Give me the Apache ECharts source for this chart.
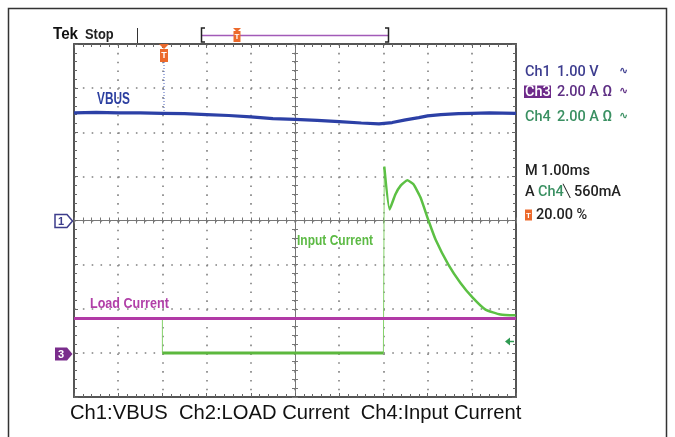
<!DOCTYPE html>
<html>
<head>
<meta charset="utf-8">
<script src="https://cdn.jsdelivr.net/npm/echarts@6/dist/echarts.min.js"></script>
<style>
html,body{margin:0;padding:0;background:#fff;}
#c{width:675px;height:437px;}
</style>
</head>
<body>
<div id="c"></div>
<script>
// Time axis in ms (trigger at 0, 20% position), vertical values in screen divisions
const vbusTime = [-2,-1.5,-1,-0.5,0,0.5,1,1.5,2,2.5,3,3.5,4,4.5,4.9,5.2,5.5,5.8,6.0,6.3,6.7,7.0,7.4,8];
const vbusDiv  = [2.44,2.45,2.44,2.44,2.43,2.42,2.40,2.38,2.35,2.31,2.29,2.27,2.24,2.21,2.19,2.22,2.28,2.33,2.37,2.40,2.42,2.43,2.44,2.43];

const loadTime = [-2,0,2,4,6,8];
const loadDiv  = [-2.22,-2.22,-2.22,-2.22,-2.22,-2.22];

const inputPreTime = [-2,0];
const inputPreDiv  = [-2.22,-2.22];
const inputLowTime = [0,1,2,3,4,5];
const inputLowDiv  = [-3.0,-3.0,-3.0,-3.0,-3.0,-3.0];
const inputRecTime = [5.02,5.14,5.27,5.39,5.54,5.68,5.84,6.02,6.18,6.47,6.74,7.02,7.31,7.65,7.99];
const inputRecDiv  = [1.22,0.25,0.59,0.79,0.91,0.82,0.52,0,-0.43,-1.0,-1.41,-1.75,-2.02,-2.13,-2.15];

const xTicks = {min:-2,max:8,interval:1};
const yTicks = {min:-4,max:4,interval:1};

const zip = (t,v) => t.map((x,i)=>[x,v[i]]);
const edgeData = [
  [inputPreTime[1], inputPreDiv[1]],
  [inputLowTime[0], inputLowDiv[0]],
  [inputLowTime[inputLowTime.length-1], inputLowDiv[inputLowDiv.length-1]],
  [inputRecTime[0], inputRecDiv[0]]
];

const G = {left:74, top:44, width:442, height:353};
const borderAxis = (extra) => Object.assign({
  type:'value', axisLabel:{show:false},
  axisLine:{show:true, onZero:false, lineStyle:{color:'#555', width:2}},
  axisTick:{show:true, inside:true, length:4, lineStyle:{color:'#666', width:1}},
  minorTick:{show:true, splitNumber:5, length:3, lineStyle:{color:'#666', width:1}},
  splitLine:{show:false}
}, extra);
const centerAxis = (extra, inside) => Object.assign({
  type:'value', axisLabel:{show:false},
  axisLine:{show:true, onZero:true, lineStyle:{color:'#777', width:1}},
  axisTick:{show:true, inside:inside, length:3, lineStyle:{color:'#777', width:1}},
  minorTick:{show:true, splitNumber:5, length:3, lineStyle:{color:'#777', width:1}},
  splitLine:{show:false}
}, extra);

const PF = '"Roboto","Liberation Sans",sans-serif';
const LS = '"Liberation Sans",sans-serif';
const txt = (x,y,text,font,fill,align,sx) => ({type:'text', x:x, y:y, z:120, scaleX:sx||1,
  style:{text:text, font:font, fill:fill, textVerticalAlign:'middle', textAlign:align||'left'}});

const orange = '#ec6a2c';
const option = {
  animation:false,
  backgroundColor:'#ffffff',
  grid:[Object.assign({show:false},G), Object.assign({show:false},G), Object.assign({show:false},G)],
  xAxis:[
    borderAxis({gridIndex:0, position:'bottom', min:xTicks.min, max:xTicks.max, interval:xTicks.interval,
      splitLine:{show:true, lineStyle:{color:'#808080', width:1.6, type:[1.6,7.24]}}}),
    borderAxis({gridIndex:0, position:'top', min:xTicks.min, max:xTicks.max, interval:xTicks.interval}),
    centerAxis({gridIndex:1, min:-5, max:5, interval:1}, true),
    centerAxis({gridIndex:2, min:-5, max:5, interval:1}, false)
  ],
  yAxis:[
    borderAxis({gridIndex:0, position:'left', min:yTicks.min, max:yTicks.max, interval:yTicks.interval,
      splitLine:{show:true, lineStyle:{color:'#808080', width:1.6, type:[1.6,7.24]}}}),
    borderAxis({gridIndex:0, position:'right', min:yTicks.min, max:yTicks.max, interval:yTicks.interval}),
    centerAxis({gridIndex:1, min:-4, max:4, interval:1}, true),
    centerAxis({gridIndex:2, min:-4, max:4, interval:1}, false)
  ],
  series:[
    {type:'line', name:'Input pre', xAxisIndex:0, yAxisIndex:0, data:zip(inputPreTime,inputPreDiv), symbol:'none', z:3,
      lineStyle:{color:'#5cbf45', width:3}},
    {type:'line', name:'Input edges', xAxisIndex:0, yAxisIndex:0, data:edgeData, symbol:'none', z:3,
      lineStyle:{color:'#86d26c', width:1}},
    {type:'line', name:'Input low', xAxisIndex:0, yAxisIndex:0, data:zip(inputLowTime,inputLowDiv), symbol:'none', z:4,
      lineStyle:{color:'#5cb83e', width:3}},
    {type:'line', name:'Load Current', xAxisIndex:0, yAxisIndex:0, data:zip(loadTime,loadDiv), symbol:'none', z:5,
      lineStyle:{color:'#b13aa6', width:3}},
    {type:'line', name:'Input recovery', xAxisIndex:0, yAxisIndex:0, data:zip(inputRecTime,inputRecDiv), symbol:'none', z:6, smooth:0.15,
      lineStyle:{color:'#5cc044', width:2.5}},
    {type:'line', name:'VBUS', xAxisIndex:0, yAxisIndex:0, data:zip(vbusTime,vbusDiv), symbol:'none', z:7,
      lineStyle:{color:'#2c40a6', width:3.2}}
  ],
  graphic:[
    {type:'rect', z:100, shape:{x:8.5,y:8.5,width:658,height:445}, style:{fill:'none', stroke:'#333', lineWidth:1.5}},
    txt(53,35,'Tek','bold 16px '+LS,'#111','left',0.95),
    txt(85,35,'Stop','bold 14px '+LS,'#222','left',0.92),
    {type:'line', z:100, shape:{x1:137.5,y1:28,x2:137.5,y2:43}, style:{stroke:'#333', lineWidth:1}},
    {type:'line', z:100, shape:{x1:201,y1:35.5,x2:389,y2:35.5}, style:{stroke:'#a25ab8', lineWidth:1.5}},
    {type:'polyline', z:101, shape:{points:[[205,28],[201.5,28],[201.5,42],[205,42]]}, style:{fill:'none', stroke:'#222', lineWidth:1.5}},
    {type:'polyline', z:101, shape:{points:[[385,28],[388.5,28],[388.5,42],[385,42]]}, style:{fill:'none', stroke:'#222', lineWidth:1.5}},
    {type:'polygon', z:102, shape:{points:[[233,28],[241,28],[237,32]]}, style:{fill:orange}},
    {type:'rect', z:102, shape:{x:233.5,y:31,width:7,height:11}, style:{fill:orange}},
    txt(237,36.5,'T','bold 8px '+LS,'#fff','center'),
    // trigger marker on screen
    {type:'polygon', z:102, shape:{points:[[159,44],[169,44],[164,49]]}, style:{fill:orange}},
    {type:'rect', z:102, shape:{x:160,y:49,width:8,height:13}, style:{fill:orange}},
    txt(164,55.5,'T','bold 9px '+LS,'#fff','center'),
    {type:'line', z:50, shape:{x1:164,y1:62,x2:164,y2:113}, style:{stroke:'#4a62c0', lineWidth:1, lineDash:[1,2]}},
    // channel markers
    {type:'polygon', z:102, shape:{points:[[55,214.5],[67,214.5],[72.5,221],[67,227.5],[55,227.5]]}, style:{fill:'#fff', stroke:'#3d3d8c', lineWidth:1.5}},
    txt(61,221.5,'1','bold 11px '+LS,'#3d3d8c','center'),
    {type:'polygon', z:102, shape:{points:[[55,347.5],[67,347.5],[72.5,354],[67,360.5],[55,360.5]]}, style:{fill:'#7a2d8c'}},
    txt(61,354.5,'3','bold 11px '+LS,'#fff','center'),
    // Ch4 trigger level arrow
    {type:'polygon', z:102, shape:{points:[[505,341.5],[510,337.5],[510,345.5]]}, style:{fill:'#2f9a52'}},
    {type:'line', z:102, shape:{x1:509,y1:341.5,x2:514,y2:341.5}, style:{stroke:'#2f9a52', lineWidth:1.5}},
    // trace labels
    txt(97,100,'VBUS','bold 16px '+LS,'#2c3fa0','left',0.74),
    txt(297,241,'Input Current','bold 15px '+LS,'#5cba44','left',0.8),
    txt(90,304,'Load Current','bold 15.5px '+LS,'#b140a8','left',0.81),
    // right panel
    txt(525,72,'Ch1','500 14.5px '+PF,'#3d3d8f'),
    txt(557,72,'1.00 V','500 14.5px '+PF,'#3d3d8f'),
    txt(619,71,'\u223F','bold 11px "DejaVu Sans",sans-serif','#3d3d8f'),
    {type:'rect', z:100, shape:{x:524,y:85.5,width:27,height:12.5}, style:{fill:'#6e2b8a'}},
    txt(525,92,'Ch3','500 14.5px '+PF,'#ffffff'),
    txt(557,92,'2.00 A \u03A9','500 14.5px '+PF,'#5e2f84'),
    txt(619,91,'\u223F','bold 11px "DejaVu Sans",sans-serif','#5e2f84'),
    txt(525,117,'Ch4','500 14.5px '+PF,'#3a9062'),
    txt(557,117,'2.00 A \u03A9','500 14.5px '+PF,'#3a9062'),
    txt(619,116,'\u223F','bold 11px "DejaVu Sans",sans-serif','#3a9062'),
    txt(525,171,'M','500 14.5px '+PF,'#222'),
    txt(541,171,'1.00ms','500 14.5px '+PF,'#222'),
    txt(525,192,'A','500 14.5px '+PF,'#222'),
    txt(538,192,'Ch4','500 14.5px '+PF,'#3a9062'),
    txt(563,192,'\u2572','bold 12px "DejaVu Sans",sans-serif','#222'),
    txt(574,192,'560mA','500 14.5px '+PF,'#222'),
    {type:'rect', z:100, shape:{x:525,y:209.5,width:7,height:11}, style:{fill:orange}},
    txt(528.5,215.5,'T','bold 8px '+LS,'#fff','center'),
    txt(536,215,'20.00 %','500 14.5px '+PF,'#222'),
    // caption
    txt(70,413,'Ch1:VBUS  Ch2:LOAD Current  Ch4:Input Current','20px '+LS,'#111','left',1.01)
  ]
};
const chart = echarts.init(document.getElementById('c'), null, {renderer:'canvas'});
chart.setOption(option);
</script>
</body>
</html>
